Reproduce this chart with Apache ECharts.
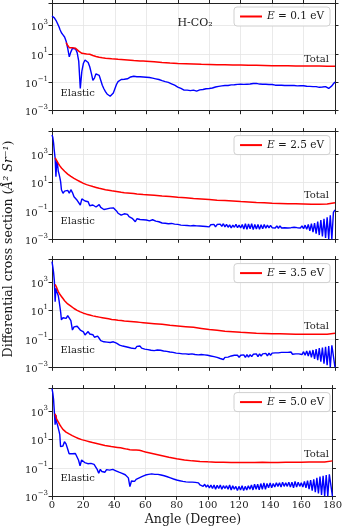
<!DOCTYPE html>
<html>
<head>
<meta charset="utf-8">
<script src="https://cdn.jsdelivr.net/npm/echarts@6.0.0/dist/echarts.min.js"></script>
<style>
  html, body { margin: 0; padding: 0; background: #fff; }
  #chart { width: 345px; height: 528px; }
</style>
</head>
<body>
<div id="chart"></div>
<script>
// angle grid (degrees) for the elastic curves
const angles = [0,0.5,1,1.5,2,2.5,3,3.5,4,4.5,5,5.5,6,
  7,8,9,10,11,12,13,14,15,16,17,18,19,20,21,22,23,24,25,26,27,28,29,30,
  31,32,33,34,35,36,37,38,39,40,41,42,43,44,45,46,47,48,49,50,
  51,52,53,54,55,56,57,58,59,60,61,62,63,64,65,66,67,68,69,70,
  71,72,73,74,75,76,77,78,79,80,81,82,83,84,85,86,87,88,89,90,
  91,92,93,94,95,96,97,98,99,100,101,102,103,104,105,106,107,108,109,110,
  111,112,113,114,115,116,117,118,119,120,121,122,123,124,125,126,127,128,129,130,
  131,132,133,134,135,136,137,138,139,140,141,142,143,144,145,146,147,148,149,150,
  151,152,153,154,155,156,157,158,159,160,161,162,163,164,165,166,167,168,169,170,
  171,172,173,174,175,176,177,178,179,180];

// angle grid for the total curves
const totalAngles = [0,1,2,3,4,5,6,7,8,9,10,11,12,13,14,15,16,17,18,19,20,
  22,24,26,28,30,32,34,36,38,40,42,44,46,48,50,52,54,56,58,60,
  65,70,75,80,85,90,95,100,105,110,115,120,125,130,135,140,145,150,155,160,165,170,175,180];

// log10 of the DCS (A^2 sr^-1)
const elastic01 = [3.67,3.65,3.62,3.55,3.48,3.38,3.25,3.15,3.03,2.9,2.75,2.62,2.5,
  2.35,2.2,1.9,1.4,
  0.8,1.15,1.4,1.46,1.35,1.1,0.5,-1.43,-0.2,0.35,
  0.58,0.6,0.4,0.1,-0.35,-0.85,-0.7,-0.4,-0.33,-0.5,
  -0.85,-1.2,-1.45,-1.65,-1.82,-1.93,-1.98,-1.92,-1.75,-1.45,
  -1.15,-0.95,-0.85,-0.8,-0.78,-0.78,-0.76,-0.75,-0.7,-0.62,
  -0.58,-0.57,-0.6,-0.6,-0.62,-0.6,-0.62,-0.62,-0.63,-0.64,
  -0.65,-0.66,-0.68,-0.7,-0.73,-0.75,-0.78,-0.8,-0.82,-0.88,
  -0.92,-0.95,-0.97,-1.0,-1.05,-1.1,-1.13,-1.2,-1.28,-1.33,
  -1.38,-1.43,-1.47,-1.55,-1.6,-1.55,-1.52,-1.58,-1.5,-1.55,
  -1.6,-1.62,-1.57,-1.53,-1.5,-1.5,-1.48,-1.45,-1.44,-1.43,
  -1.42,-1.4,-1.37,-1.33,-1.3,-1.28,-1.27,-1.25,-1.24,-1.22,
  -1.2,-1.22,-1.2,-1.18,-1.2,-1.17,-1.15,-1.14,-1.15,-1.13,
  -1.12,-1.14,-1.12,-1.13,-1.1,-1.12,-1.1,-1.08,-1.1,-1.07,
  -1.1,-1.12,-1.1,-1.13,-1.12,-1.13,-1.14,-1.15,-1.17,-1.15,
  -1.18,-1.2,-1.18,-1.2,-1.22,-1.2,-1.2,-1.22,-1.2,-1.22,
  -1.23,-1.22,-1.24,-1.22,-1.23,-1.25,-1.23,-1.24,-1.26,-1.24,
  -1.25,-1.27,-1.26,-1.28,-1.27,-1.3,-1.36,-1.3,-1.28,-1.35,
  -1.4,-1.33,-1.27,-1.3,-1.38,-1.43,-1.4,-1.25,-1.1,-0.97];

const elastic25 = [4.36,4.2,3.8,3.2,2.7,1.42,2.5,2.3,1.8,1.6,1.35,1.05,0.5,
  0.25,0.4,0.3,0.45,
  0.25,0.5,0.3,0.0,0.05,-0.25,-0.2,-0.58,-0.15,-0.1,
  -0.3,-0.4,-0.35,-0.63,-0.5,-0.58,-0.45,-0.72,-0.6,-0.55,
  -0.75,-0.81,-0.9,-1.0,-0.85,-0.93,-0.8,-0.85,-0.78,-0.81,
  -1.0,-1.16,-1.1,-1.3,-1.33,-1.2,-1.3,-1.24,-1.4,-1.45,
  -1.52,-1.6,-1.76,-1.55,-1.47,-1.6,-1.52,-1.62,-1.55,-1.64,
  -1.58,-1.7,-1.6,-1.62,-1.55,-1.72,-1.65,-1.76,-1.7,-1.85,
  -1.78,-1.87,-1.8,-1.9,-1.82,-1.88,-1.8,-1.93,-1.85,-1.95,
  -1.88,-2.0,-1.9,-2.02,-1.92,-2.03,-1.95,-2.05,-1.95,-2.03,
  -1.93,-2.05,-1.95,-2.06,-1.96,-2.08,-1.95,-2.1,-1.98,-2.12,
  -1.97,-2.1,-1.95,-2.12,-1.96,-2.05,-1.93,-2.08,-1.9,-2.12,
  -1.95,-2.15,-1.98,-2.2,-2.0,-2.15,-1.95,-2.18,-2.0,-2.2,
  -1.95,-2.28,-1.9,-2.3,-1.92,-2.25,-1.9,-2.32,-1.95,-2.28,
  -1.95,-2.3,-1.97,-2.25,-1.95,-2.22,-2.0,-2.2,-2.02,-2.18,
  -2.05,-2.2,-2.05,-2.22,-2.05,-2.2,-2.08,-2.18,-2.1,-2.2,
  -2.1,-2.18,-2.1,-2.15,-2.1,-2.18,-2.08,-2.2,-2.05,-2.25,
  -2.0,-2.3,-1.95,-2.4,-1.9,-2.5,-1.85,-2.6,-1.75,-2.7,
  -1.65,-2.8,-1.55,-2.9,-1.45,-3.0,-1.3,-3.0,-1.1,-0.93];

const elastic35 = [4.45,4.1,3.7,3.1,1.63,2.58,2.35,2.2,2.05,1.7,1.3,0.9,0.35,
  0.5,0.6,0.45,0.65,
  0.55,0.3,-0.37,-0.15,-0.2,-0.1,-0.2,-0.37,-0.4,-0.5,
  -0.72,-0.6,-0.48,-0.65,-0.6,-0.7,-0.88,-0.75,-0.8,-0.95,
  -1.12,-1.05,-1.2,-1.15,-1.22,-1.1,-1.25,-1.15,-1.2,-1.08,
  -1.3,-1.25,-1.43,-1.35,-1.5,-1.4,-1.55,-1.45,-1.6,-1.5,
  -1.66,-1.55,-1.68,-1.52,-1.6,-1.5,-1.65,-1.58,-1.72,-1.62,
  -1.75,-1.65,-1.8,-1.7,-1.82,-1.68,-1.78,-1.68,-1.8,-1.7,
  -1.85,-1.75,-1.88,-1.78,-1.92,-1.82,-1.95,-1.85,-2.0,-1.88,
  -2.02,-1.9,-2.05,-1.92,-2.05,-1.95,-2.08,-1.95,-2.05,-1.95,
  -2.1,-1.98,-2.12,-2.0,-2.1,-2.0,-2.12,-2.02,-2.15,-2.05,
  -2.2,-2.1,-2.25,-2.15,-2.3,-2.2,-2.38,-2.25,-2.45,-2.3,
  -2.42,-2.28,-2.35,-2.2,-2.3,-2.15,-2.28,-2.15,-2.3,-2.15,
  -2.28,-2.12,-2.3,-2.1,-2.28,-2.1,-2.25,-2.08,-2.22,-2.05,
  -2.25,-2.05,-2.2,-2.05,-2.18,-2.02,-2.2,-2.0,-2.15,-2.0,
  -2.12,-1.98,-2.1,-1.98,-2.1,-1.95,-2.08,-1.95,-2.05,-1.95,
  -2.05,-1.92,-2.08,-1.95,-2.05,-1.95,-2.05,-1.92,-2.1,-1.9,
  -2.15,-1.85,-2.2,-1.82,-2.3,-1.78,-2.4,-1.72,-2.5,-1.65,
  -2.6,-1.6,-2.75,-1.55,-2.85,-1.5,-3.0,-1.45,-1.4,-3.0];

const elastic50 = [4.6,4.3,3.85,2.97,2.05,2.74,2.2,2.05,2.15,1.6,1.35,0.5,0.45,
  0.55,0.85,0.7,0.35,
  0.0,-0.05,0.0,-0.1,0.02,-0.1,-0.44,-0.84,-0.44,-0.5,
  -0.62,-0.55,-0.7,-0.62,-0.68,-0.58,-0.75,-0.84,-1.1,-1.38,
  -1.1,-1.25,-1.15,-1.3,-1.12,-1.25,-1.15,-1.28,-1.1,-1.02,
  -1.2,-1.26,-1.3,-1.4,-1.38,-1.52,-1.48,-1.62,-1.7,-2.32,
  -1.92,-1.85,-1.95,-1.8,-1.85,-1.7,-1.72,-1.6,-1.62,-1.5,
  -1.52,-1.45,-1.5,-1.42,-1.48,-1.45,-1.52,-1.45,-1.55,-1.5,
  -1.58,-1.55,-1.65,-1.62,-1.75,-1.7,-1.82,-1.78,-1.88,-1.85,
  -1.95,-1.9,-2.0,-1.95,-2.05,-1.98,-2.08,-2.0,-2.1,-2.0,
  -2.12,-2.02,-2.15,-2.05,-2.2,-2.1,-2.3,-2.15,-2.35,-2.2,
  -2.4,-2.2,-2.45,-2.2,-2.5,-2.22,-2.45,-2.2,-2.5,-2.25,
  -2.45,-2.25,-2.5,-2.2,-2.55,-2.25,-2.5,-2.3,-2.6,-2.3,
  -2.55,-2.25,-2.6,-2.3,-2.55,-2.25,-2.5,-2.2,-2.55,-2.15,
  -2.5,-2.15,-2.55,-2.1,-2.5,-2.05,-2.5,-2.1,-2.4,-2.05,
  -2.4,-2.1,-2.35,-2.05,-2.3,-2.05,-2.35,-2.0,-2.3,-2.05,
  -2.3,-2.0,-2.35,-2.0,-2.4,-1.95,-2.35,-2.0,-2.3,-2.05,
  -2.35,-1.95,-2.4,-1.9,-2.5,-1.85,-2.6,-1.8,-2.7,-1.7,
  -2.8,-1.6,-2.9,-1.55,-3.0,-1.5,-3.0,-1.45,-1.4,-3.0];

const total01 = [null,null,null,null,null,null,null,null,null,1.8,1.6,1.45,1.42,1.45,1.46,1.4,1.3,1.2,1.12,1.05,1.02,
  1.0,0.98,0.9,0.83,0.77,0.73,0.7,0.68,0.66,0.65,0.63,0.62,0.6,0.58,0.56,0.54,0.53,0.51,0.5,0.49,
  0.45,0.4,0.36,0.33,0.31,0.29,0.27,0.26,0.25,0.24,0.23,0.22,0.21,0.2,0.19,0.18,0.17,0.17,0.16,0.16,0.15,0.15,0.14,0.14];

const total25 = [null,null,2.75,2.62,2.35,2.18,2.03,1.92,1.8,1.7,1.6,1.52,1.44,1.36,1.3,1.24,1.18,1.12,1.06,1.0,0.95,
  0.86,0.79,0.72,0.66,0.6,0.55,0.5,0.46,0.42,0.39,0.36,0.32,0.29,0.27,0.25,0.23,0.2,0.18,0.16,0.15,
  0.11,0.06,0.02,-0.03,-0.07,-0.12,-0.16,-0.2,-0.24,-0.27,-0.3,-0.34,-0.37,-0.4,-0.42,-0.45,-0.47,-0.49,-0.5,-0.51,-0.52,-0.52,-0.51,-0.42];

const total35 = [null,null,2.85,2.62,2.34,2.15,2.0,1.85,1.7,1.57,1.47,1.39,1.31,1.23,1.15,1.08,1.02,0.96,0.91,0.86,0.82,
  0.75,0.69,0.63,0.58,0.54,0.5,0.46,0.42,0.38,0.35,0.32,0.3,0.27,0.25,0.23,0.21,0.19,0.17,0.15,0.13,
  0.08,0.03,-0.03,-0.08,-0.13,-0.18,-0.26,-0.34,-0.39,-0.45,-0.49,-0.53,-0.56,-0.59,-0.61,-0.63,-0.64,-0.65,-0.66,-0.66,-0.67,-0.67,-0.66,-0.6];

const total50 = [null,null,2.82,2.45,2.25,2.05,1.88,1.72,1.62,1.53,1.46,1.4,1.34,1.28,1.23,1.18,1.13,1.08,1.04,1.0,0.97,
  0.91,0.85,0.79,0.74,0.69,0.64,0.59,0.55,0.51,0.48,0.45,0.42,0.38,0.33,0.29,0.27,0.26,0.25,0.19,0.12,
  0.0,-0.12,-0.24,-0.35,-0.44,-0.5,-0.54,-0.57,-0.59,-0.6,-0.61,-0.61,-0.61,-0.61,-0.6,-0.61,-0.61,-0.6,-0.6,-0.59,-0.58,-0.58,-0.58,-0.5];

const energies = ['0.1', '2.5', '3.5', '5.0'];
const elasticSets = [elastic01, elastic25, elastic35, elastic50];
const totalSets = [total01, total25, total35, total50];

// exponents that get a tick label (10^n)
const yTickExps = {'3': '3', '1': '1', '-1': '\u22121', '-3': '\u22123'};

const FONT = 'DejaVu Serif';
const INK = '#1a1a1a';
const panelTop = [3, 131.6, 259.6, 388.6];
const panelH = 107.7;

let grids = [], xAxes = [], yAxes = [], series = [], legends = [], graphics = [];

panelTop.forEach((top, i) => {
  grids.push({left: 52, right: 10, top: top, height: panelH});

  let axisLine = {show: true, onZero: false, lineStyle: {color: '#222', width: 1}};
  let tick = {show: true, inside: false, length: 3.5, lineStyle: {color: '#222'}};

  // bottom + top x axes
  xAxes.push({
    gridIndex: i, type: 'value', position: 'bottom', min: 0, max: 180, interval: 20,
    axisLine: axisLine, axisTick: tick,
    axisLabel: {show: i === 3, color: INK, fontFamily: FONT, fontSize: 10, margin: 4},
    splitLine: {show: true, lineStyle: {color: '#e4e4e4', width: 0.8}}
  });
  xAxes.push({
    gridIndex: i, type: 'value', position: 'top', min: 0, max: 180, interval: 20,
    axisLine: axisLine, axisTick: tick, axisLabel: {show: false}, splitLine: {show: false}
  });

  // left + right y axes (log10 values)
  yAxes.push({
    gridIndex: i, type: 'value', position: 'left', min: -3, max: 4.6, interval: 2,
    axisLine: axisLine, axisTick: tick,
    axisLabel: {
      color: INK, fontFamily: FONT, fontSize: 10, margin: 4,
      formatter: v => {
        let e = yTickExps[String(Math.round(v * 100) / 100)];
        return e ? '{b|10}{s|' + e + '}' : '';
      },
      rich: {
        b: {fontFamily: FONT, fontSize: 10, lineHeight: 14, verticalAlign: 'bottom', color: INK},
        s: {fontFamily: FONT, fontSize: 7, lineHeight: 8, verticalAlign: 'top', color: INK}
      }
    },
    splitLine: {show: true, lineStyle: {color: '#e4e4e4', width: 0.8}}
  });
  yAxes.push({
    gridIndex: i, type: 'value', position: 'right', min: -3, max: 4.6, interval: 2,
    axisLine: axisLine, axisTick: tick, axisLabel: {show: false}, splitLine: {show: false}
  });

  let name = 'E = ' + energies[i] + ' eV';
  series.push({
    name: 'Elastic ' + energies[i], type: 'line',
    xAxisIndex: 2 * i, yAxisIndex: 2 * i,
    data: angles.map((a, k) => [a, elasticSets[i][k]]),
    showSymbol: false, clip: true,
    lineStyle: {color: '#0000ff', width: 1.4}, itemStyle: {color: '#0000ff'}
  });
  series.push({
    name: name, type: 'line',
    xAxisIndex: 2 * i, yAxisIndex: 2 * i,
    data: totalAngles.map((a, k) => [a, totalSets[i][k]]),
    showSymbol: false, clip: true,
    lineStyle: {color: '#ff0000', width: 1.5}, itemStyle: {color: '#ff0000'}
  });

  legends.push({
    data: [name], top: top + 4, right: 15,
    icon: 'rect', itemWidth: 22, itemHeight: 2,
    padding: [4, 6], borderColor: '#d0d0d0', borderWidth: 1, borderRadius: 3,
    backgroundColor: 'rgba(255,255,255,0.9)',
    selectedMode: false,
    formatter: n => n.replace('E', '{it|E}'),
    textStyle: {
      color: INK, fontFamily: FONT, fontSize: 10.5,
      rich: {it: {fontStyle: 'italic', fontFamily: FONT, fontSize: 10.5, color: INK}}
    }
  });
});

// in-panel labels
const totalLabelY = [59, 195.7, 326, 454];
const elasticLabelY = [93, 221.7, 350, 478.3];
totalLabelY.forEach(y => graphics.push({
  type: 'text', z: 100, style: {text: 'Total', x: 329, y: y, textAlign: 'right', textVerticalAlign: 'middle',
    font: '10px "DejaVu Serif"', fill: INK}
}));
elasticLabelY.forEach(y => graphics.push({
  type: 'text', z: 100, style: {text: 'Elastic', x: 60.5, y: y, textAlign: 'left', textVerticalAlign: 'middle',
    font: '10px "DejaVu Serif"', fill: INK}
}));
graphics.push({
  type: 'text', z: 100, style: {text: 'H-CO₂', x: 195, y: 23, textAlign: 'center', textVerticalAlign: 'middle',
    font: '11px "DejaVu Serif"', fill: INK}
});
graphics.push({
  type: 'text', x: 193, y: 520,
  style: {text: 'Angle (Degree)', textAlign: 'center', textVerticalAlign: 'middle',
    font: '12.5px "DejaVu Serif"', fill: INK}
});
graphics.push({
  type: 'text', x: 8.5, y: 249, rotation: Math.PI / 2,
  style: {text: 'Differential cross section ({i|Å² Sr⁻¹})', textAlign: 'center', textVerticalAlign: 'middle',
    font: '12.5px "DejaVu Serif"', fill: INK,
    rich: {i: {fontStyle: 'italic', fontFamily: FONT, fontSize: 12.5, fill: INK}}}
});

let option = {
  animation: false,
  backgroundColor: '#fff',
  grid: grids,
  xAxis: xAxes,
  yAxis: yAxes,
  legend: legends,
  series: series,
  graphic: graphics
};

let chart = echarts.init(document.getElementById('chart'), null, {renderer: 'canvas'});
chart.setOption(option);
</script>
</body>
</html>
